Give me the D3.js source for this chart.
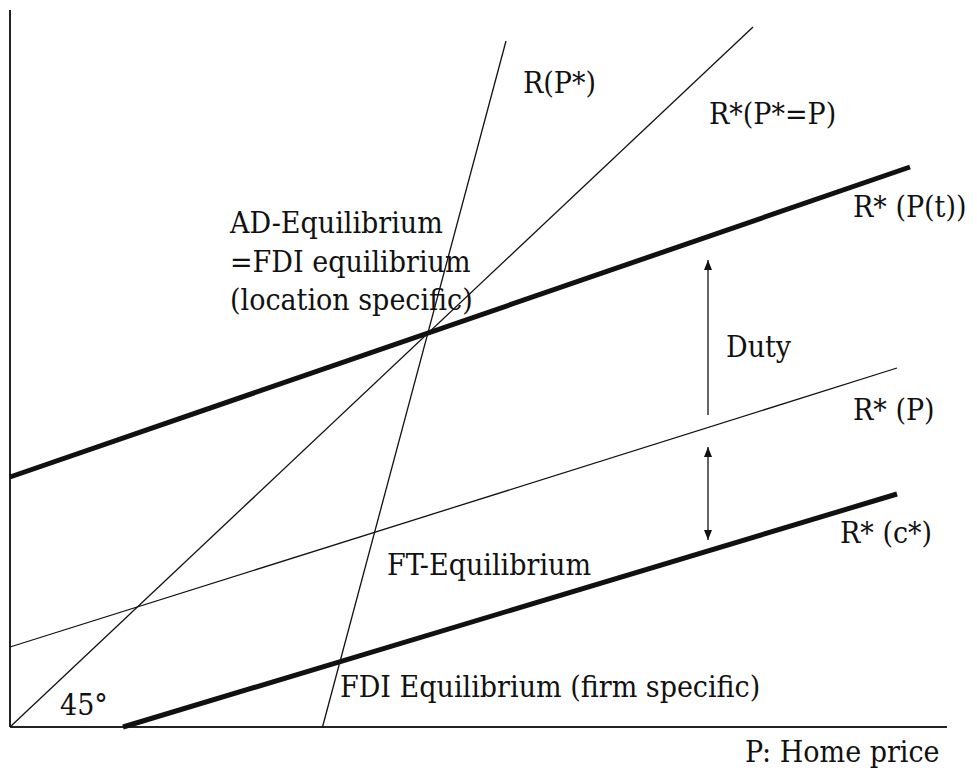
<!DOCTYPE html>
<html>
<head>
<meta charset="utf-8">
<script src="https://cdn.jsdelivr.net/npm/d3@7/dist/d3.min.js"></script>
<style>
  html, body { margin: 0; padding: 0; background: #fff; }
  svg { display: block; }
</style>
</head>
<body>
<div id="chart"></div>
<script>
// Curves of the diagram (data units, x = P home price, y = R)
const lineNames = ["R*(P*=P)", "R(P*)", "R* (P(t))", "R* (P)", "R* (c*)"];
const lineStartX = [0, 31.25, 0, 0, 11.3];
const lineStartY = [0, 0, 25, 8, 0];
const lineEndX = [74.3, 49.6, 90, 88.7, 88.7];
const lineEndY = [70, 68.6, 56, 35.9, 23.3];

// Arrows: duty gap and cost gap
const arrowNames = ["Duty", "Cost gap"];
const arrowX = [69.8, 69.8];
const arrowFrom = [31.2, 28];
const arrowTo = [46.7, 18.7];

// Text annotations
const labelTexts = [
    "R(P*)", "R*(P*=P)", "R* (P(t))", "R* (P)", "R* (c*)", "Duty",
    "AD-Equilibrium", "=FDI equilibrium", "(location specific)",
    "FT-Equilibrium", "FDI Equilibrium (firm specific)", "45°", "P: Home price"
];
const labelX = [51.3, 69.9, 84.3, 84.3, 83, 71.6, 22, 22, 22, 37.7, 33, 5, 73.5];
const labelY = [63.4, 60.3, 51, 30.7, 18.4, 37, 49.4, 45.5, 41.7, 15.2, 3, 1.2, -3.5];

const config = {
    width: 977,
    height: 770,
    origin: { x: 10, y: 727 },
    axisEnd: { x: 947, y: 10 },
    thinWidth: 1.3,
    thickWidth: 5,
    thickLines: ["R* (P(t))", "R* (c*)"],
    font: "'DejaVu Serif Condensed', 'DejaVu Serif', serif",
    fontSize: 30
};

const svg = d3.select("#chart").append("svg")
    .attr("width", config.width)
    .attr("height", config.height);

svg.append("rect").attr("width", config.width).attr("height", config.height).attr("fill", "#fff");

// 1 unit = 10px on both axes
const x = d3.scaleLinear().domain([0, 93.7]).range([config.origin.x, config.axisEnd.x]);
const y = d3.scaleLinear().domain([0, 71.7]).range([config.origin.y, config.axisEnd.y]);

// Axes (plain lines, no ticks)
svg.append("line")
    .attr("x1", x(0)).attr("y1", y(0)).attr("x2", x(0)).attr("y2", y(71.7))
    .attr("stroke", "#222").attr("stroke-width", 2);
svg.append("line")
    .attr("x1", x(0)).attr("y1", y(0)).attr("x2", x(93.7)).attr("y2", y(0))
    .attr("stroke", "#222").attr("stroke-width", 2);

// Lines
const lines = lineNames.map((name, i) => ({
    name,
    pts: [[lineStartX[i], lineStartY[i]], [lineEndX[i], lineEndY[i]]]
}));

const lineGen = d3.line().x(d => x(d[0])).y(d => y(d[1]));

svg.selectAll(".curve")
    .data(lines)
    .enter()
    .append("path")
    .attr("class", "curve")
    .attr("d", d => lineGen(d.pts))
    .attr("fill", "none")
    .attr("stroke", "#111")
    .attr("stroke-width", d => config.thickLines.includes(d.name) ? config.thickWidth : config.thinWidth);

// Arrow heads
const defs = svg.append("defs");
defs.append("marker")
    .attr("id", "head")
    .attr("viewBox", "0 0 10 10")
    .attr("refX", 10).attr("refY", 5)
    .attr("markerWidth", 10).attr("markerHeight", 10)
    .attr("markerUnits", "userSpaceOnUse")
    .attr("orient", "auto-start-reverse")
    .append("path")
    .attr("d", "M0,1 L10,5 L0,9 Z")
    .attr("fill", "#111");

// Duty arrow points up only; the cost gap arrow has two heads
svg.selectAll(".arrow")
    .data(arrowNames)
    .enter()
    .append("line")
    .attr("class", "arrow")
    .attr("x1", (_, i) => x(arrowX[i]))
    .attr("x2", (_, i) => x(arrowX[i]))
    .attr("y1", (_, i) => y(arrowFrom[i]))
    .attr("y2", (_, i) => y(arrowTo[i]))
    .attr("stroke", "#111")
    .attr("stroke-width", 1.3)
    .attr("marker-end", "url(#head)")
    .attr("marker-start", d => d === "Duty" ? null : "url(#head)");

// Labels
svg.selectAll(".lbl")
    .data(labelTexts)
    .enter()
    .append("text")
    .attr("class", "lbl")
    .attr("x", (_, i) => x(labelX[i]))
    .attr("y", (_, i) => y(labelY[i]))
    .attr("font-family", config.font)
    .attr("font-stretch", "condensed")
    .attr("font-size", config.fontSize)
    .attr("fill", "#111")
    .text(d => d);
</script>
</body>
</html>
